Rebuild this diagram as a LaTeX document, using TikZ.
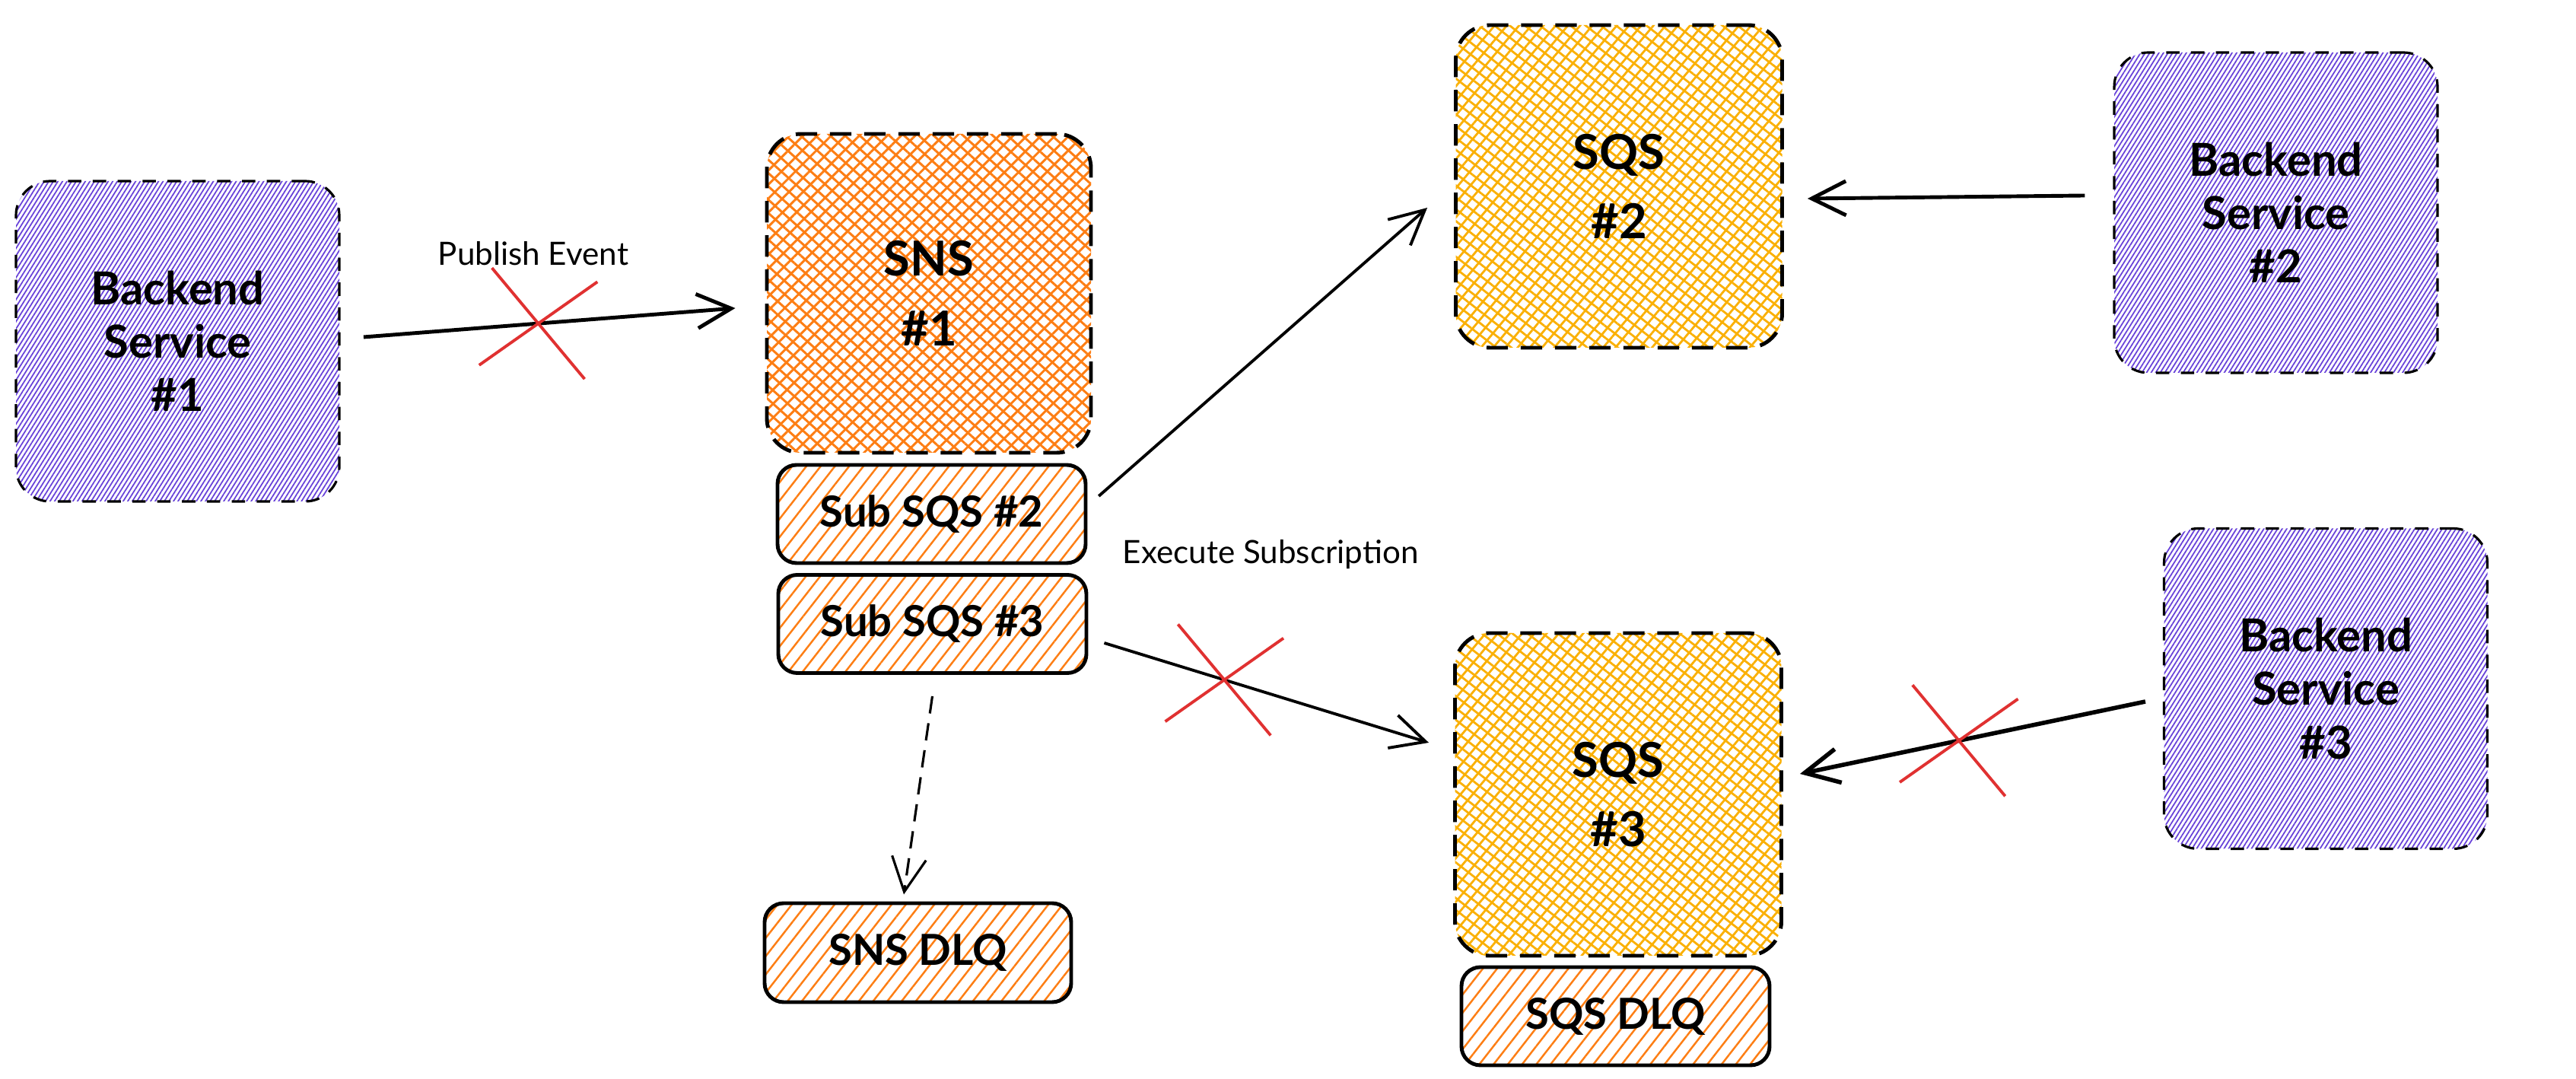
\documentclass[tikz,border=0pt]{standalone}
\usepackage{fontspec}
\setmainfont{Lato}
\usetikzlibrary{arrows.meta,patterns.meta,shapes.misc}

\definecolor{svcpurple}{RGB}{103,65,217}
\definecolor{snsorange}{RGB}{253,126,20}
\definecolor{sqsyellow}{RGB}{250,176,5}
\definecolor{crossred}{RGB}{224,49,49}

\tikzset{
  service/.style={draw, line width=0.9pt, dash pattern=on 5pt off 4.3pt,
    rounded corners=0.45cm, minimum width=4.25cm, minimum height=4.21cm,
    inner sep=0pt, align=center, font=\fontsize{17}{20}\selectfont\bfseries,
    pattern={Lines[angle=58,distance=1.45pt,line width=0.5pt]}, pattern color=svcpurple},
  topic/.style={draw, line width=1.4pt, dash pattern=on 8pt off 4.8pt,
    rounded corners=0.45cm, minimum width=4.26cm, minimum height=4.19cm,
    inner sep=0pt, align=center, font=\fontsize{18}{26}\selectfont\bfseries,
    preaction={pattern={Lines[angle=45,distance=3.7pt,line width=0.85pt]}, pattern color=snsorange},
    pattern={Lines[angle=-42,distance=3.7pt,line width=0.85pt]}, pattern color=snsorange},
  queue/.style={draw, line width=1.4pt, dash pattern=on 8pt off 4.8pt,
    rounded corners=0.45cm, minimum width=4.29cm, minimum height=4.24cm,
    inner sep=0pt, align=center, font=\fontsize{18}{26}\selectfont\bfseries,
    preaction={pattern={Lines[angle=50,distance=3.5pt,line width=0.8pt]}, pattern color=sqsyellow},
    pattern={Lines[angle=-38,distance=3.5pt,line width=0.8pt]}, pattern color=sqsyellow},
  subbox/.style={draw, line width=1.4pt, rounded corners=0.25cm,
    minimum width=4.05cm, minimum height=1.29cm, inner sep=0pt,
    font=\fontsize{16}{19}\selectfont\bfseries,
    pattern={Lines[angle=52,distance=4.2pt,line width=0.7pt]}, pattern color=snsorange},
  flow/.style={-{Straight Barb[length=0.45cm,width=0.45cm]}, line width=1.4pt},
  xmark/.style={cross out, draw=crossred, line width=1.1pt, minimum width=1.36cm,
    minimum height=1.25cm, inner sep=0pt, rotate=-7.5},
  note/.style={font=\fontsize{12}{14}\selectfont}
}

\begin{document}
\begin{tikzpicture}
\useasboundingbox (0,0) rectangle (33.86,14.18);

% services
\node[service] (b1) at (2.335,9.695) {Backend\\Service\\\#1};
\node[service] (b2) at (29.915,11.385) {Backend\\Service\\\#2};
\node[service] (b3) at (30.57,5.13) {Backend\\Service\\\#3};

% topic and its subscriptions
\node[topic] (sns) at (12.21,10.325) {SNS\\\#1};
\node[subbox] (sub2) at (12.245,7.425) {Sub SQS \#2};
\node[subbox] (sub3) at (12.255,5.98) {Sub SQS \#3};
\node[subbox, minimum width=4.03cm, minimum height=1.3cm] (snsdlq) at (12.065,1.66) {SNS DLQ};

% queues
\node[queue] (sqs2) at (21.28,11.73) {SQS\\\#2};
\node[queue] (sqs3) at (21.27,3.74) {SQS\\\#3};
\node[subbox] (sqsdlq) at (21.235,0.825) {SQS DLQ};

% labels
\node[note] (pub) at (7.01,10.85) {Publish Event};
\node[note] (exec) at (16.70,6.89) {Execute Subscription};

% connectors
\draw[flow] ([shift={(0.31,0.055)}]b1.east) -- ([shift={(-0.40,-0.195)}]sns.west)
  node[pos=0.47, xmark] (x1) {};
\draw[flow, line width=1.1pt] ([shift={(0.16,0.235)}]sub2.east) -- ([shift={(-0.36,-0.28)}]sqs2.west);
\draw[flow, line width=1.1pt] ([shift={(0.21,-0.25)}]sub3.east) -- ([shift={(-0.32,0.68)}]sqs3.west)
  node[pos=0.37, xmark] (x2) {};
\draw[flow] ([shift={(-0.37,0.225)}]b2.west) -- ([shift={(0.32,-0.16)}]sqs2.east);
\draw[flow, line width=1.6pt] ([shift={(-0.23,-0.17)}]b3.west) -- ([shift={(0.22,0.27)}]sqs3.east)
  node[pos=0.54, xmark] (x3) {};
\draw[flow, line width=0.9pt, dash pattern=on 6.5pt off 3.7pt]
  ([shift={(0,-0.28)}]sub3.south) -- ([shift={(-0.185,0.09)}]snsdlq.north);
\end{tikzpicture}
\end{document}
